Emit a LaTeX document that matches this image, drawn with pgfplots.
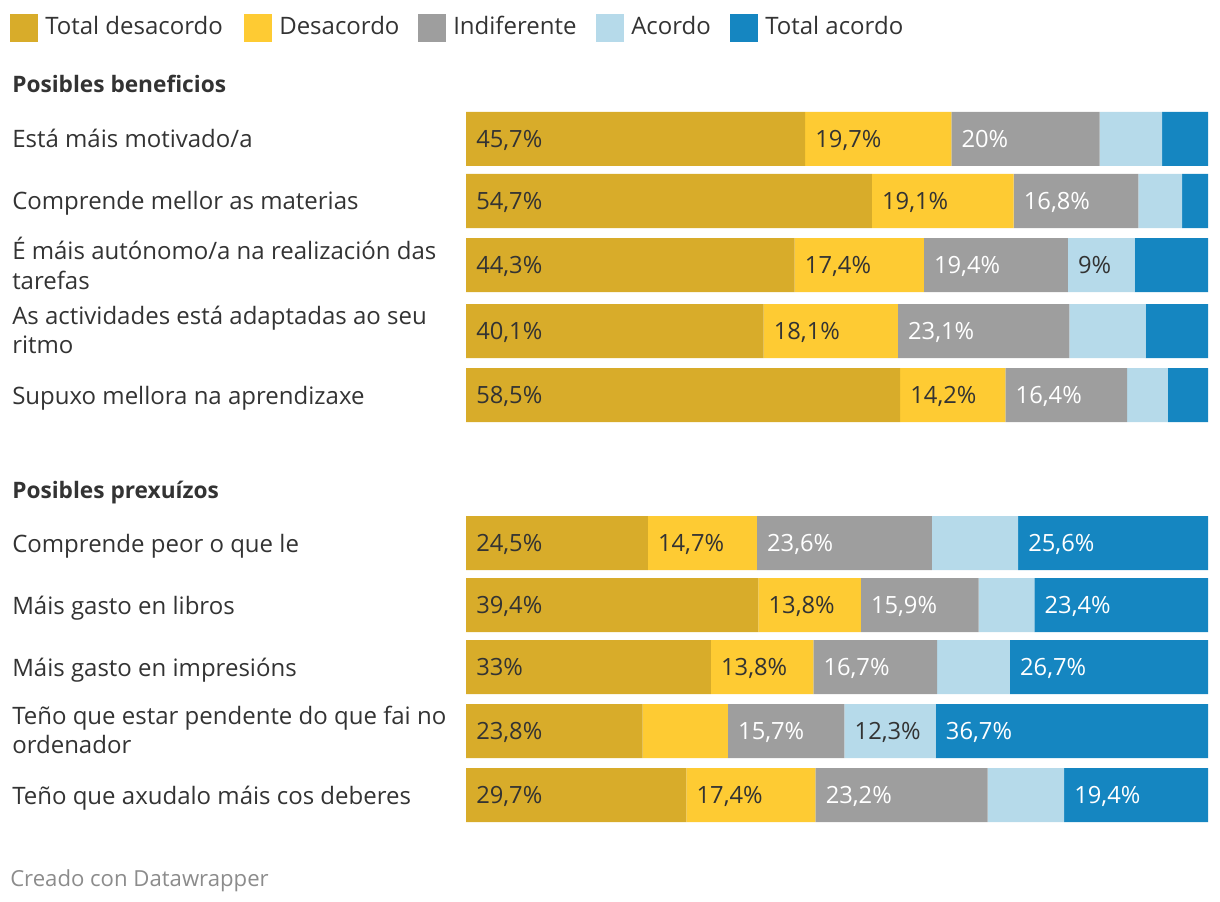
\documentclass[border=0pt]{standalone}
\usepackage{pgfplots}
\pgfplotsset{compat=1.18}
\usepackage{fontspec}
\setmainfont{Open Sans}
\definecolor{tdes}{HTML}{D8AC2A}
\definecolor{des}{HTML}{FECB33}
\definecolor{ind}{HTML}{9E9E9E}
\definecolor{aco}{HTML}{B6DAEA}
\definecolor{tac}{HTML}{1586C1}
\definecolor{txt}{HTML}{333333}
\definecolor{foot}{HTML}{8C8C8C}
\newcommand{\fs}{\fontsize{18pt}{21.75pt}\selectfont}
\newcommand{\vfs}{\fontsize{17.8pt}{20pt}\selectfont}
\begin{document}
\begin{tikzpicture}
\path[use as bounding box] (0,0) rectangle (915pt,-676.5pt);
\pgfplotsset{myaxis/.style={at={(349.5pt,-622.5pt)}, anchor=south west, scale only axis,
  width=556.5pt, height=547.5pt, xmin=0, xmax=100, ymin=-830, ymax=-100, hide axis, clip=false}}
\begin{axis}[myaxis, xbar stacked, bar width=40.5pt]
\addplot[fill=tdes, draw=none] table[x=x,y=y] {
x y
45.7 -139
54.7 -201
44.3 -265
40.1 -331
58.5 -395
24.5 -543
39.4 -605
33.0 -667
23.8 -731
29.7 -795
};
\addplot[fill=des, draw=none] table[x=x,y=y] {
x y
19.7 -139
19.1 -201
17.4 -265
18.1 -331
14.2 -395
14.7 -543
13.8 -605
13.8 -667
11.5 -731
17.4 -795
};
\addplot[fill=ind, draw=none] table[x=x,y=y] {
x y
20.0 -139
16.8 -201
19.4 -265
23.1 -331
16.4 -395
23.6 -543
15.9 -605
16.7 -667
15.7 -731
23.2 -795
};
\addplot[fill=aco, draw=none] table[x=x,y=y] {
x y
8.4 -139
5.9 -201
9.0 -265
10.3 -331
5.5 -395
11.6 -543
7.5 -605
9.8 -667
12.3 -731
10.3 -795
};
\addplot[fill=tac, draw=none] table[x=x,y=y] {
x y
6.2 -139
3.5 -201
9.9 -265
8.4 -331
5.4 -395
25.6 -543
23.4 -605
26.7 -667
36.7 -731
19.4 -795
};
\end{axis}
\begin{axis}[myaxis]
\addplot[draw=none, mark=none, nodes near coords={\pgfplotspointmeta\%}, point meta=explicit symbolic,
  nodes near coords style={anchor=base west, xshift=7.5pt, yshift=-6.4pt, text=txt, font=\vfs, inner sep=0pt}]
  table[x=x,y=y,meta=l] {
x y l
0 -139 45,7
45.7 -139 19,7
0 -201 54,7
54.7 -201 19,1
0 -265 44,3
44.3 -265 17,4
81.1 -265 9
0 -331 40,1
40.1 -331 18,1
0 -395 58,5
58.5 -395 14,2
0 -543 24,5
24.5 -543 14,7
0 -605 39,4
39.4 -605 13,8
0 -667 33
33.0 -667 13,8
0 -731 23,8
51.0 -731 12,3
0 -795 29,7
29.7 -795 17,4
};
\addplot[draw=none, mark=none, nodes near coords={\pgfplotspointmeta\%}, point meta=explicit symbolic,
  nodes near coords style={anchor=base west, xshift=7.5pt, yshift=-6.4pt, text=white, font=\vfs, inner sep=0pt}]
  table[x=x,y=y,meta=l] {
x y l
65.4 -139 20
73.8 -201 16,8
61.7 -265 19,4
58.2 -331 23,1
72.7 -395 16,4
39.2 -543 23,6
74.4 -543 25,6
53.2 -605 15,9
76.6 -605 23,4
46.8 -667 16,7
73.3 -667 26,7
35.3 -731 15,7
63.3 -731 36,7
47.1 -795 23,2
80.6 -795 19,4
};
\end{axis}
\begin{scope}[x=0.75pt,y=-0.75pt, every node/.style={inner sep=0pt, text=txt, font=\fs}]
% legend
\fill[tdes] (10,14) rectangle (38,42);
\node[anchor=base west] at (45,35) {Total desacordo};
\fill[des] (244,14) rectangle (272,42);
\node[anchor=base west] at (279,35) {Desacordo};
\fill[ind] (418,14) rectangle (446,42);
\node[anchor=base west] at (453,35) {Indiferente};
\fill[aco] (596,14) rectangle (624,42);
\node[anchor=base west] at (631,35) {Acordo};
\fill[tac] (730,14) rectangle (758,42);
\node[anchor=base west] at (765,35) {Total acordo};
% group titles
\node[anchor=base west, font=\bfseries\fontsize{17pt}{20pt}\selectfont] at (12,93) {Posibles beneficios};
\node[anchor=base west, font=\bfseries\fontsize{17pt}{20pt}\selectfont] at (12,498) {Posibles prexuízos};
% category labels
\node[anchor=base west, align=left] at (12,148) {Está máis motivado/a};
\node[anchor=base west, align=left] at (12,210) {Comprende mellor as materias};
\node[anchor=base west, align=left] at (12,289) {É máis autónomo/a na realización das\\tarefas};
\node[anchor=base west, align=left] at (12,353) {As actividades está adaptadas ao seu\\ritmo};
\node[anchor=base west, align=left] at (12,404) {Supuxo mellora na aprendizaxe};
\node[anchor=base west, align=left] at (12,552) {Comprende peor o que le};
\node[anchor=base west, align=left] at (12,614) {Máis gasto en libros};
\node[anchor=base west, align=left] at (12,676) {Máis gasto en impresións};
\node[anchor=base west, align=left] at (12,753) {Teño que estar pendente do que fai no\\ordenador};
\node[anchor=base west, align=left] at (12,804) {Teño que axudalo máis cos deberes};
% footer
\node[anchor=base west, text=foot, font=\fontsize{16.6pt}{20pt}\selectfont] at (10,886) {Creado con Datawrapper};
\end{scope}
\end{tikzpicture}
\end{document}
